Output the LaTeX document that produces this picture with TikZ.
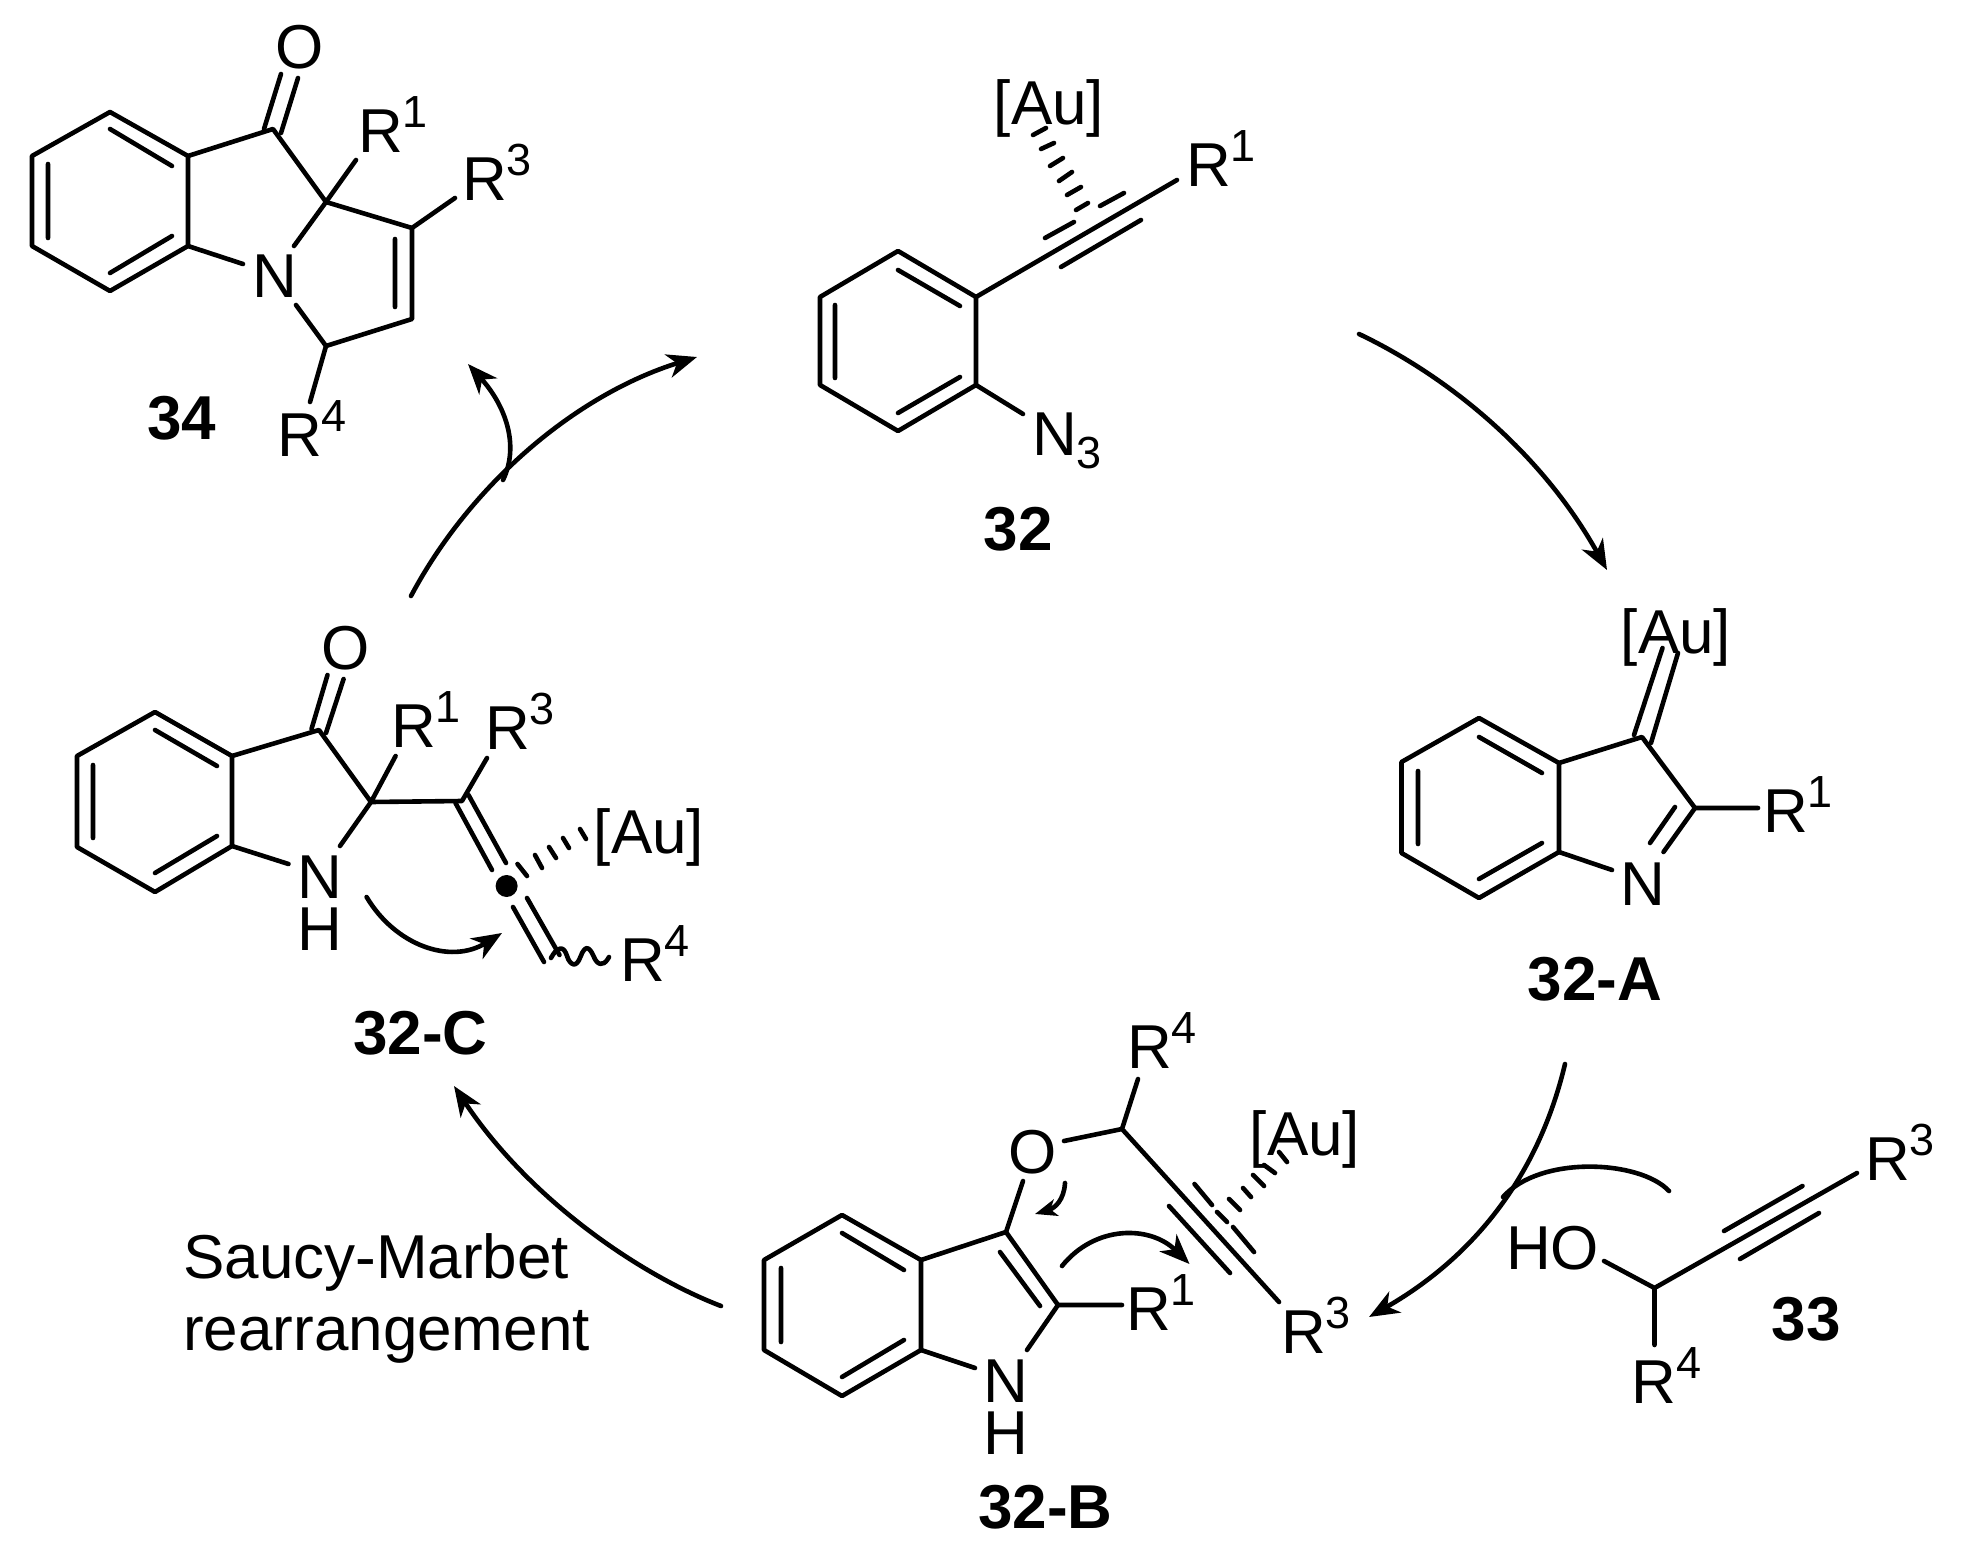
\documentclass[tikz,border=0pt]{standalone}
\usepackage{fontspec}
\setmainfont{Liberation Sans}
\usetikzlibrary{arrows.meta}
\newcommand\Rn[1]{R\raisebox{25pt}{\fontsize{45}{45}\selectfont #1}}
\tikzset{
  bond/.style={line width=4.6pt,line cap=round,line join=round},
  rxn/.style={line width=4.6pt,line cap=round,-{Stealth[length=30pt,width=24pt,inset=9pt]}},
  plainarc/.style={line width=4.6pt,line cap=round},
  atom/.style={anchor=base west,inner sep=0pt,font=\fontsize{62}{62}\selectfont},
  catl/.style={anchor=base,inner sep=0pt,font=\fontsize{62}{62}\selectfont},
  cmpd/.style={anchor=base,inner sep=0pt,font=\fontsize{62}{62}\selectfont\bfseries},
}
\begin{document}
\begin{tikzpicture}[x=1pt,y=-1pt]
\useasboundingbox (0,0) rectangle (1966,1546);
\fill[white] (0,0) rectangle (1966,1546);

% ---------- 34
\draw[bond] (110,112)--(188,156)--(188,246)--(110,291)--(32,246)--(32,156)--cycle;
\draw[bond] (110,129)--(172,166) (110,273)--(172,236) (48,164)--(48,238);
\draw[bond] (188,156)--(273,129)--(326,202)--(412,228)--(412,319)--(326,346)--(296,305);
\draw[bond] (326,202)--(294,246) (188,246)--(243,264);
\draw[bond] (264,129)--(281,74) (281,133)--(298,78);
\draw[bond] (326,202)--(356,160) (412,228)--(455,198) (395,239)--(395,307) (326,346)--(310,402);
\node[catl] (o34) at (300,69) {O};
\node[atom] (n34) at (252,298) {N};
\node[atom] (r1a) at (358,153) {\Rn{1}};
\node[atom] (r3a) at (462,201) {\Rn{3}};
\node[atom] (r4a) at (277,456) {\Rn{4}};
\node[cmpd] (c34) at (181.5,439) {34};

% ---------- 32
\draw[bond] (898,251)--(976,297)--(976,385)--(898,431)--(820,385)--(820,297)--cycle;
\draw[bond] (898,270)--(960,306) (898,413)--(960,377) (835,305)--(835,378);
\draw[bond] (976,297)--(1177,180) (1045,238)--(1074,222) (1100,206)--(1124,193) (1061,267)--(1141,220);
\draw[bond] (1033,135)--(1046,128) (1041,149)--(1054,143) (1050,166)--(1063,158) (1059,181)--(1072,172) (1067,195)--(1081,187) (1076,210)--(1088,203);
\draw[bond] (976,385)--(1023,414);
\node[catl] (au32) at (1049,125) {[Au]};
\node[atom] (r1b) at (1186,187) {\Rn{1}};
\node[atom] (n3) at (1032,455) {N\raisebox{-13pt}{\fontsize{45}{45}\selectfont 3}};
\node[cmpd] (c32) at (1018,550) {32};

% ---------- 32-A
\draw[bond] (1479,718)--(1559,763)--(1559,852)--(1479,898)--(1401.5,853)--(1401.5,762)--cycle;
\draw[bond] (1479,737)--(1542,773) (1479,879)--(1542,843) (1418,771)--(1418,844);
\draw[bond] (1559,763)--(1642,737)--(1695,808)--(1663.5,852) (1675,807)--(1650,843) (1695,808)--(1758,808) (1559,852)--(1612,870);
\draw[bond] (1634,735)--(1662.5,648) (1651,743)--(1678,653);
\node[catl] (aua) at (1676,653) {[Au]};
\node[atom] (r1c) at (1763,832) {\Rn{1}};
\node[atom] (na) at (1620,905) {N};
\node[cmpd] (ca) at (1595,1000) {32-A};

% ---------- 32-B
\draw[bond] (842,1215)--(921,1260)--(921,1350)--(842,1396)--(764,1350)--(764,1260)--cycle;
\draw[bond] (842,1233)--(904,1270) (842,1377)--(904,1340) (781,1268)--(781,1342);
\draw[bond] (921,1260)--(1006,1232)--(1058,1305)--(1027,1350) (1000,1252)--(1040,1306) (921,1350)--(975,1368);
\draw[bond] (1058,1305)--(1122,1305) (1006,1232)--(1023,1181) (1064,1141)--(1122,1129)--(1138,1079) (1122,1129)--(1279,1302);
\draw[bond] (1169,1206)--(1230,1273) (1194.5,1184)--(1212,1205) (1233,1227)--(1254,1252);
\draw[bond] (1279,1152)--(1287,1162) (1264,1165)--(1275,1173) (1253,1175)--(1264,1186) (1243,1188)--(1251,1197) (1229,1199)--(1240,1210) (1217,1212)--(1227,1222);
\node[catl] (o32b) at (1033,1173) {O};
\node[catl] (aub) at (1305,1155) {[Au]};
\node[atom] (r4b) at (1127,1068) {\Rn{4}};
\node[atom] (r1d) at (1126,1330) {\Rn{1}};
\node[atom] (r3b) at (1281,1353) {\Rn{3}};
\node[atom] (nb) at (983,1402) {N};
\node[atom] (hb) at (983,1454) {H};
\node[cmpd] (cb) at (1045.5,1528) {32-B};

% ---------- 33
\draw[bond] (1604,1261)--(1654.5,1288)--(1857,1173) (1724,1231)--(1802.5,1186) (1740,1259)--(1819,1213) (1654.5,1288)--(1654.5,1345);
\node[atom] (ho) at (1506,1269) {HO};
\node[atom] (r3c) at (1865,1180) {\Rn{3}};
\node[atom] (r4c) at (1631.5,1403) {\Rn{4}};
\node[cmpd] (c33) at (1806,1340) {33};

% ---------- 32-C
\draw[bond] (155,712)--(232,756)--(232,846)--(155,892)--(77,847)--(77,756)--cycle;
\draw[bond] (155,730)--(217,766) (155,873)--(217,836) (93,765)--(93,838);
\draw[bond] (232,756)--(319,730)--(371,802)--(340,846) (232,846)--(288.5,864) (371,802)--(395.6,756) (371,802)--(462,801)--(487,758);
\draw[bond] (311.5,729)--(327.5,675) (326,733)--(343.6,679);
\draw[bond] (455.5,803)--(492,870) (468.5,795)--(506,863) (513,907)--(544,962) (527,898)--(559.5,955);
\draw[bond] (517.5,864)--(527,876) (535,855)--(542,868) (549,847)--(556,858) (563,838)--(569,848) (580,829)--(586,839);
\fill (506.6,886) circle[radius=11pt];
\draw[bond] plot[smooth,tension=0.7] coordinates {(551,958) (557,950) (564,950) (570,962) (577,963) (584,950) (590,950) (597,962) (604,963) (609,957)};
\node[catl] (o32c) at (346,669) {O};
\node[atom] (r1e) at (391,747) {\Rn{1}};
\node[atom] (r3d) at (485,749) {\Rn{3}};
\node[catl] (auc) at (649,853) {[Au]};
\node[atom] (r4d) at (620,981) {\Rn{4}};
\node[atom] (nc) at (297,898) {N};
\node[atom] (hc) at (297,950) {H};
\node[cmpd] (cc) at (420.5,1054) {32-C};

% ---------- text
\node[atom] (s1) at (183,1278) {Saucy-Marbet};
\node[atom] (s2) at (183,1350) {rearrangement};

% ---------- cycle arrows
\coordinate (a1s) at (411,596); \coordinate (a1e) at (697,357);
\coordinate (a0s) at (503,480); \coordinate (a0e) at (468,364);
\coordinate (a2s) at (1359,334); \coordinate (a2e) at (1607,570);
\coordinate (a3s) at (1565,1064); \coordinate (a3e) at (1369,1317);
\coordinate (a3b) at (1669,1191); \coordinate (a3m) at (1503,1197);
\coordinate (a4s) at (721,1306); \coordinate (a4e) at (454,1086);
\draw[rxn] (a1s) .. controls (470,485) and (575,395) .. (a1e);
\draw[rxn] (a0s) .. controls (520,445) and (505,405) .. (a0e);
\draw[rxn] (a2s) .. controls (1445,375) and (1540,450) .. (a2e);
\draw[rxn] (a3s) .. controls (1535,1190) and (1460,1265) .. (a3e);
\draw[plainarc] (a3b) .. controls (1640,1160) and (1540,1155) .. (a3m);
\draw[rxn] (a4s) .. controls (640,1275) and (530,1200) .. (a4e);

% ---------- electron arrows
\coordinate (e1s) at (366.6,897); \coordinate (e1e) at (502,933);
\coordinate (e2s) at (1065,1183); \coordinate (e2e) at (1035,1214);
\coordinate (e3s) at (1062,1266); \coordinate (e3e) at (1189.5,1264);
\draw[rxn] (e1s) .. controls (395,945) and (450,965) .. (e1e);
\draw[rxn,-{Stealth[length=22pt,width=17pt,inset=6pt]}] (e2s) .. controls (1064,1200) and (1055,1208) .. (e2e);
\draw[rxn] (e3s) .. controls (1095,1225) and (1150,1225) .. (e3e);
\end{tikzpicture}
\end{document}
